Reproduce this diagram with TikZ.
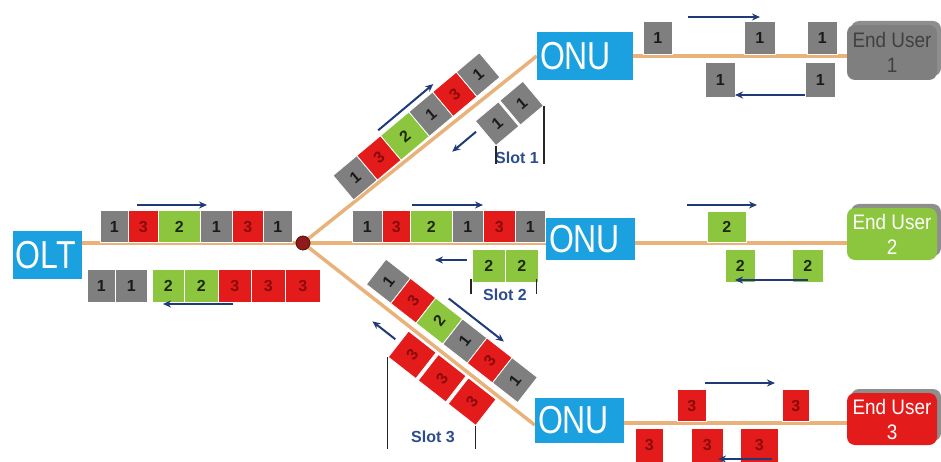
\documentclass[tikz,border=0pt]{standalone}
\usepackage{fontspec}
\usepackage{graphicx}
\setmainfont{Liberation Sans}
\newfontfamily\narrowfont[FakeStretch=0.82]{Liberation Sans}
\newfontfamily\userfont[FakeStretch=0.9]{Liberation Sans}
\usetikzlibrary{arrows.meta,calc,shadows}

\definecolor{c1}{HTML}{7F7F7F}
\definecolor{c2}{HTML}{8CC63E}
\definecolor{c3}{HTML}{E41B1B}
\definecolor{t1}{HTML}{1A1A1A}
\definecolor{t2}{HTML}{1E2A0E}
\definecolor{t3}{HTML}{8A0A0A}
\definecolor{onublue}{HTML}{1BA1DF}
\definecolor{fiber}{HTML}{E8B27A}
\definecolor{arrowblue}{HTML}{203A78}
\definecolor{slotblue}{HTML}{2D4C8E}
\definecolor{splitred}{HTML}{8E1A1A}
\definecolor{shadowgray}{HTML}{8E8E8E}

\pgfdeclarelayer{bg}
\pgfsetlayers{bg,main}

\tikzset{
  pkt/.style={fill=c#1, text=t#1, draw=white, line width=0.8pt, inner sep=0pt,
    minimum height=32pt, font=\bfseries\fontsize{16}{16}\selectfont},
  onubox/.style={fill=onublue, text=white, inner xsep=3pt, inner ysep=0pt,
    minimum width=96pt, text width=90pt, minimum height=48pt, align=left,
    font=\narrowfont\fontsize{39}{39}\selectfont},
  eubox/.style={rounded corners=8pt, minimum width=90pt, inner sep=0pt, align=center,
    font=\userfont\fontsize{21}{25}\selectfont,
    drop shadow={shadow xshift=4pt, shadow yshift=4pt, fill=shadowgray, opacity=1}},
  fiberline/.style={draw=fiber, line width=3.5pt},
  flowarrow/.style={draw=arrowblue, line width=2pt, -{Stealth[length=8pt,width=7pt]}},
  bracket/.style={draw=black!85, line width=1.3pt},
  slotlabel/.style={text=slotblue, font=\bfseries\fontsize{16}{16}\selectfont, inner sep=0pt}
}

\begin{document}
\begin{tikzpicture}[x=1pt,y=-1pt]
\useasboundingbox (0,0) rectangle (941,462);

% ---------- main nodes ----------
\node[onubox, minimum width=69pt, text width=63pt] (olt) at (47.5,255) {OLT};
\node[onubox] (onu1) at (585,56) {ONU};
\node[onubox, minimum width=89pt, text width=83pt, minimum height=42pt] (onu2) at (590.5,239) {ONU};
\node[onubox, minimum width=89pt, text width=83pt, minimum height=45pt] (onu3) at (579.5,420.5) {ONU};
\node[circle, fill=splitred, draw=splitred!60!black, line width=0.8pt, minimum size=14pt, inner sep=0pt] (split) at (303,243) {};

\node[eubox, fill=c1, text=black!75, minimum height=55pt] (eu1) at (892,52.5) {End User\\1};
\node[eubox, fill=c2, text=white, minimum height=52pt] (eu2) at (892,234) {End User\\2};
\node[eubox, fill=c3, text=white, minimum height=52pt] (eu3) at (892,419) {End User\\3};

% ---------- background and fibres ----------
\begin{pgfonlayer}{bg}
  \fill[white] (0,0) rectangle (941,462);
  \draw[fiberline] (olt.east |- split) -- (split);
  \draw[fiberline] (split) -- (onu1.west);
  \draw[fiberline] (split) -- (split -| onu2.west);
  \draw[fiberline] (split) -- ($(onu3.south west)!0.4!(onu3.north west)$);
  \draw[fiberline] (onu1.east) -- (onu1.east -| eu1.west);
  \draw[fiberline] (onu2.east |- split) -- (eu2.west |- split);
  \draw[fiberline] ($(onu3.east)+(0,2.5)$) -- ($(onu3.east -| eu3.west)+(0,2.5)$);
\end{pgfonlayer}

% ---------- OLT side ----------
\foreach \x/\w/\k [count=\i] in {100/28/1,128/30/3,158/42/2,200/32/1,232/31/3,263/29/1}
  \node[pkt=\k, minimum width=\w pt, anchor=south west] (oltd\i) at (\x,243) {\k};
\draw[flowarrow] (137,205) -- (207,205);
\foreach \x/\w/\k [count=\i] in {87/28/1,115/32/1,152/32/2,184/34/2,218/33/3,251/34/3,285/35/3}
  \node[pkt=\k, minimum width=\w pt, minimum height=33pt, anchor=north west] (oltu\i) at (\x,269) {\k};
\draw[flowarrow] (233,304) -- (163,304);

% ---------- middle branch ----------
\foreach \x/\w/\k [count=\i] in {352/30/1,382/28/3,410/42/2,452/31/1,483/32/3,515/30/1}
  \node[pkt=\k, minimum width=\w pt, anchor=south west] (md\i) at (\x,243) {\k};
\draw[flowarrow] (412,205) -- (483,205);
\foreach \x [count=\i] in {472,505}
  \node[pkt=2, minimum width=33pt, minimum height=33pt, anchor=north west] (mu\i) at (\x,249) {2};
\draw[flowarrow] (467,260) -- (435,260);
\node[slotlabel] (slot2) at (505,295) {Slot 2};
\draw[bracket] ($(mu1.south west)+(-1,-4)$) -- ++(0,15);
\draw[bracket] ($(mu2.south east)+(-2,-4)$) -- ++(0,15);

% ---------- upper branch ----------
\begin{scope}[shift={(split.center)}, rotate=40, transform shape]
  \foreach \a/\w/\k [count=\i] in {66/31/1,97/31/3,128/37/2,165/31/1,196/31/3,227/30/1}
    \node[pkt=\k, minimum width=\w pt, anchor=south west] (ud\i) at (\a,0) {\k};
  \draw[flowarrow] (130,-38) -- (202,-38);
  \foreach \a [count=\i] in {210,242}
    \node[pkt=1, minimum width=30pt, anchor=north west] (uu\i) at (\a,17) {1};
  \draw[flowarrow] (204,26) -- (173,26);
\end{scope}
\node[slotlabel] (slot1) at (517,158) {Slot 1};
\coordinate (s1base) at (0,164);
\draw[bracket] (uu1.south west) -- (uu1.south west |- s1base);
\draw[bracket] (uu2.south east) -- (uu2.south east |- s1base);

% ---------- lower branch ----------
\begin{scope}[shift={(split.center)}, rotate=-38, transform shape]
  \foreach \a/\w/\k [count=\i] in {75/31/1,106/32/3,138/34/2,172/31/1,203/32/3,235/32/1}
    \node[pkt=\k, minimum width=\w pt, anchor=south west] (ld\i) at (\a,-6) {\rotatebox{90}{\k}};
  \draw[flowarrow] (149,-46) -- (219,-46);
  \foreach \a [count=\i] in {137,175,213}
    \node[pkt=3, minimum width=35pt, minimum height=33pt, anchor=north west] (lu\i) at (\a,4) {\rotatebox{90}{3}};
  \draw[flowarrow] (132,19) -- (103,19);
\end{scope}
\node[slotlabel] (slot3) at (433,437) {Slot 3};
\coordinate (s3base) at (0,449);
\draw[bracket] (lu1.south west) -- (lu1.south west |- s3base);
\draw[bracket] (lu3.south east) -- (lu3.south east |- s3base);

% ---------- end user 1 ----------
\foreach \x/\w [count=\i] in {643/29,744/31,807/30}
  \node[pkt=1, minimum width=\w pt, minimum height=33pt, anchor=south west] (e1d\i) at (\x,55) {1};
\foreach \x/\w [count=\i] in {705/30,805/30}
  \node[pkt=1, minimum width=\w pt, minimum height=35pt, anchor=north west] (e1u\i) at (\x,62) {1};
\draw[flowarrow] (688,17) -- (760,17);
\draw[flowarrow] (805,95) -- (735,95);

% ---------- end user 2 ----------
\node[pkt=2, minimum width=39pt, minimum height=31pt, anchor=south west] (e2d1) at (707,243) {2};
\foreach \x/\w [count=\i] in {725/30,792/31}
  \node[pkt=2, minimum width=\w pt, minimum height=33pt, anchor=north west] (e2u\i) at (\x,249) {2};
\draw[flowarrow] (687,205) -- (757,205);
\draw[flowarrow] (808,280) -- (735,280);

% ---------- end user 3 ----------
\foreach \x/\w [count=\i] in {677/29,782/27}
  \node[pkt=3, minimum width=\w pt, minimum height=32pt, anchor=south west] (e3d\i) at (\x,422) {3};
\foreach \x/\w [count=\i] in {635/28,691/32,740/38}
  \node[pkt=3, minimum width=\w pt, minimum height=34pt, anchor=north west] (e3u\i) at (\x,428) {3};
\draw[flowarrow] (705,383) -- (775,383);
\draw[flowarrow] (772,459) -- (718,459);
\end{tikzpicture}
\end{document}
